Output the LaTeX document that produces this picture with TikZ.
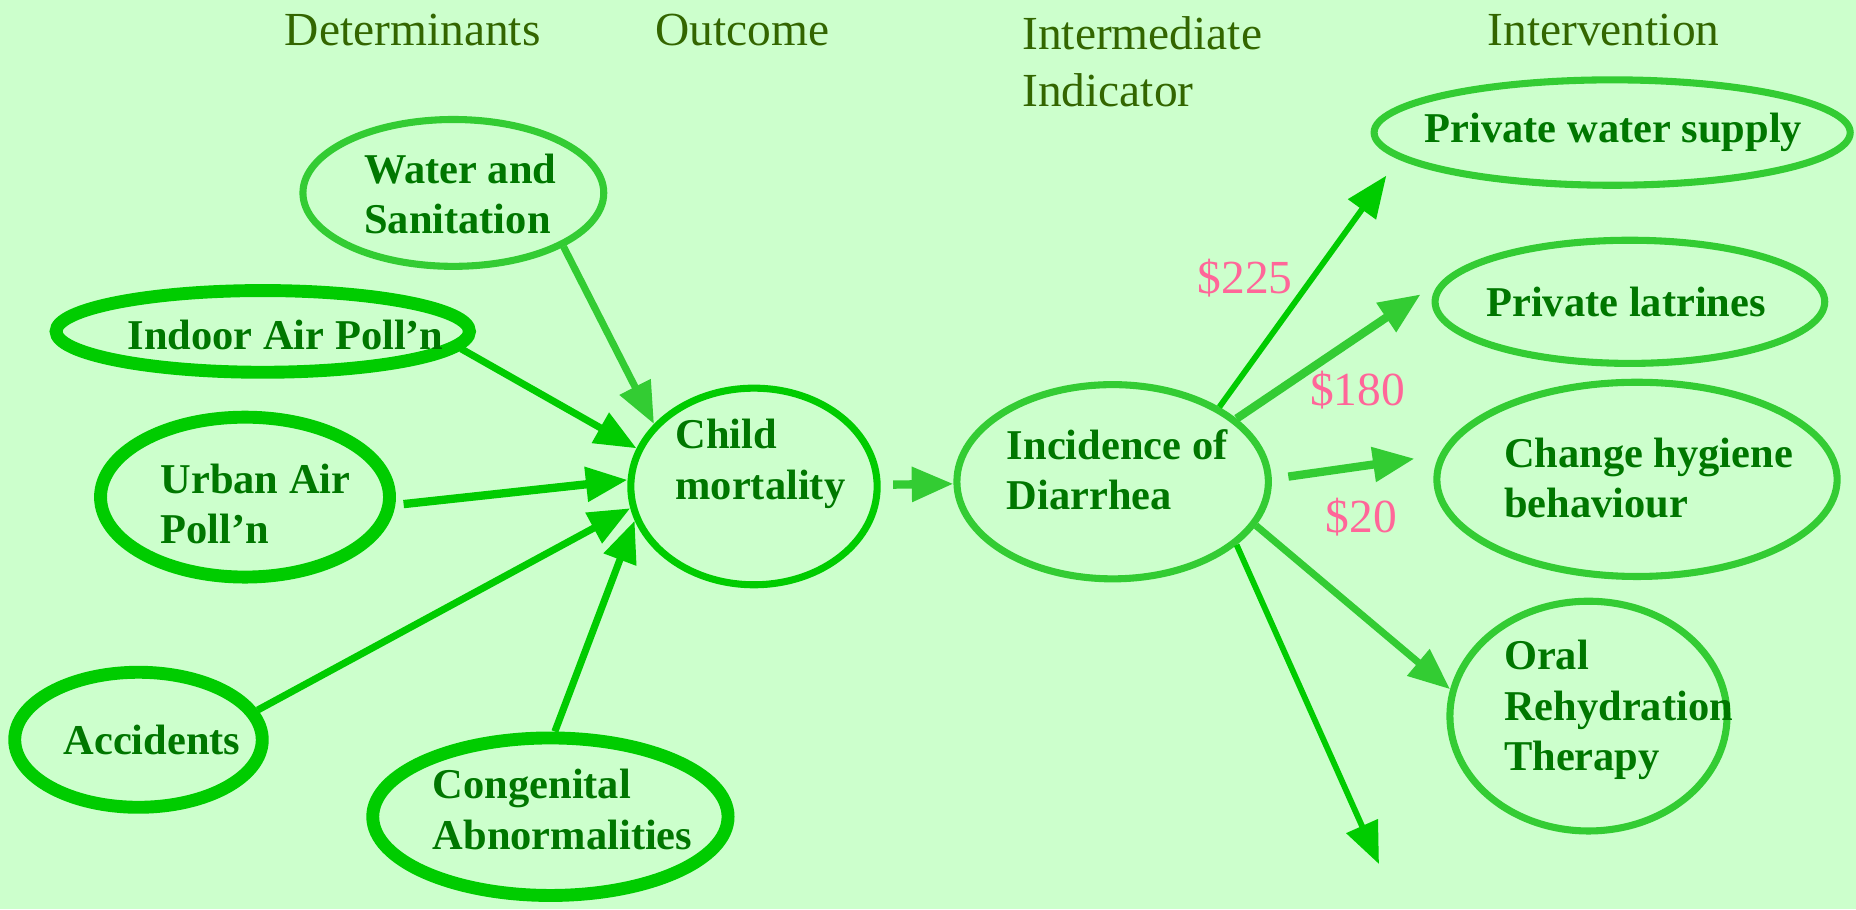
\documentclass[tikz,border=0pt]{standalone}
\usepackage{fontspec}
\setmainfont{Liberation Serif}
\usetikzlibrary{shapes.geometric,arrows.meta}
\definecolor{bgg}{HTML}{CCFFCC}
\definecolor{brightg}{HTML}{00CC00}
\definecolor{lightg}{HTML}{33CC33}
\definecolor{nodetext}{HTML}{007700}
\definecolor{headtext}{HTML}{336600}
\definecolor{pinkc}{HTML}{FF6699}
\begin{document}
\begin{tikzpicture}[x=0.01cm,y=-0.01cm,
  every node/.style={inner sep=0pt},
  blob/.style={ellipse,draw=lightg,line width=1.7pt},
  fat/.style={ellipse,draw=brightg,line width=3.1pt},
  lbl/.style={anchor=west,align=left,text=nodetext,font=\fontsize{10.2}{12.1}\selectfont\bfseries},
  head/.style={anchor=west,align=left,text=headtext,font=\fontsize{11.4}{13.7}\selectfont},
  cost/.style={text=pinkc,font=\fontsize{11.4}{13.7}\selectfont},
  arr/.style={-{Triangle[length=10pt,width=8pt]},line width=1.7pt,draw=brightg},
  larr/.style={arr,draw=lightg}]
\fill[bgg] (0,0) rectangle (1568,768);
% column titles
\node[head] (tdet) at (240,25) {Determinants};
\node[head] (tout) at (553,25) {Outcome};
\node[head,anchor=north west] (tind) at (863,13) {Intermediate\\Indicator};
\node[head] (tint) at (1256,25) {Intervention};
% determinants
\node[blob,minimum width=2.54cm,minimum height=1.24cm] (water) at (383,163) {};
\node[lbl] (waterl) at (307,164) {Water and\\Sanitation};
\node[fat,minimum width=3.49cm,minimum height=.69cm] (indoor) at (222,280) {};
\node[lbl] (indoorl) at (107,283) {Indoor Air Poll'n};
\node[fat,minimum width=2.44cm,minimum height=1.35cm] (urban) at (207,420) {};
\node[lbl] (urbanl) at (135,426) {Urban Air\\Poll'n};
\node[fat,minimum width=2.09cm,minimum height=1.14cm] (accid) at (117,625) {};
\node[lbl] (accidl) at (53,625) {Accidents};
\node[fat,minimum width=3.0cm,minimum height=1.33cm] (cong) at (465,690) {};
\node[lbl] (congl) at (365,684) {Congenital\\Abnormalities};
% outcome and indicator
\node[blob,draw=brightg,minimum width=2.08cm,minimum height=1.66cm] (child) at (637,411) {};
\node[lbl] (childl) at (570,392) {Child\\mortality};
\node[blob,minimum width=2.63cm,minimum height=1.64cm] (incid) at (940,407) {};
\node[lbl] (incidl) at (850,397) {Incidence of\\Diarrhea};
% interventions
\node[blob,minimum width=4.02cm,minimum height=.89cm] (pws) at (1362,112) {};
\node[lbl] (pwsl) at (1203,112) {Private water supply};
\node[blob,minimum width=3.29cm,minimum height=1.04cm] (latr) at (1377,255) {};
\node[lbl] (latrl) at (1255,255) {Private latrines};
\node[blob,minimum width=3.38cm,minimum height=1.64cm] (hyg) at (1383,405) {};
\node[lbl] (hygl) at (1270,404) {Change hygiene\\behaviour};
\node[blob,minimum width=2.34cm,minimum height=1.94cm] (oral) at (1342,605) {};
\node[lbl] (orall) at (1270,600) {Oral\\Rehydration\\Therapy};
% costs
\node[cost] (c225) at (1052,235) {\$225};
\node[cost] (c180) at (1147,330) {\$180};
\node[cost] (c20) at (1150,437) {\$20};
% links
\draw[larr] (water.-26) -- (child.148);
\draw[arr] (indoor.-5) -- (child.162);
\draw[arr,line width=2pt,shorten <=2pt] (urban.-3) -- (child.177);
\draw[arr] (accid.14) -- (child.190);
\draw[arr] (cong.87) -- (child.196);
\draw[larr,line width=2pt,shorten <=3pt] (child) -- (incid);
\draw[arr,line width=1.4pt,shorten >=5pt] (incid.35) -- (pws.187);
\draw[larr,line width=2pt,shorten >=10pt] (incid.27) -- (latr.170);
\draw[larr,line width=2pt,shorten <=4pt,shorten >=6pt] (incid.1) -- (hyg.173);
\draw[larr] (incid.-17) -- (oral.169);
\coordinate (loose) at (1165,730);
\draw[arr,line width=1.4pt] (incid.-27) -- (loose);
\end{tikzpicture}
\end{document}
